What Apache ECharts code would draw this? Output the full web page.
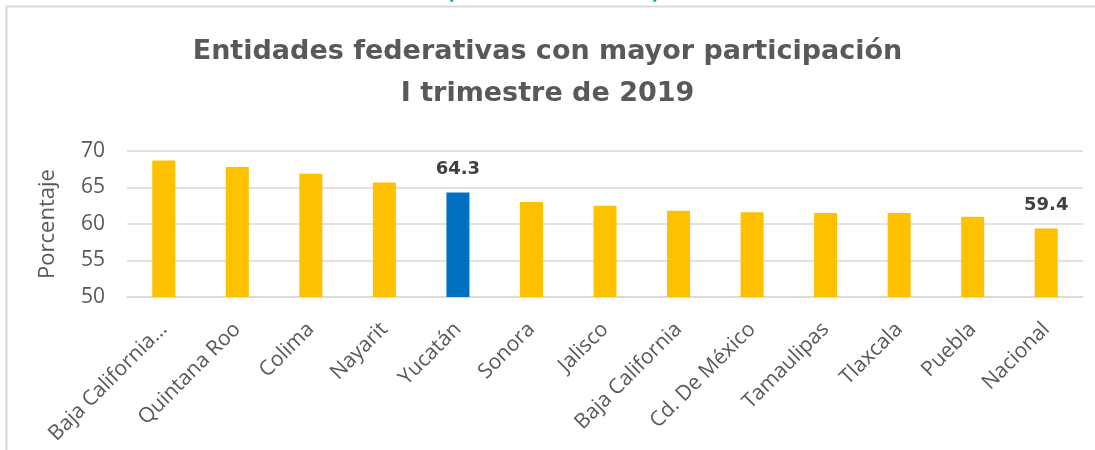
<!DOCTYPE html>
<html>
<head>
<meta charset="utf-8">
<script src="https://cdn.jsdelivr.net/npm/echarts@6/dist/echarts.min.js"></script>
<style>html,body{margin:0;padding:0;background:#fff;}#c{width:1095px;height:450px;}</style>
</head>
<body>
<div id="c"></div>
<script>
var categories = ["Baja California Sur", "Quintana Roo", "Colima", "Nayarit", "Yucatán", "Sonora", "Jalisco", "Baja California", "Cd. De México", "Tamaulipas", "Tlaxcala", "Puebla", "Nacional"];
var values = [68.7, 67.8, 66.9, 65.7, 64.3, 63.0, 62.5, 61.8, 61.6, 61.5, 61.5, 61.0, 59.4];
var highlighted = ["Yucatán"];
var labelled = ["Yucatán", "Nacional"];
var titleLines = ["Entidades federativas con mayor participación", "I trimestre de 2019"];
var yAxisName = "Porcentaje";

var chart = echarts.init(document.getElementById('c'), null, {renderer: 'canvas'});
var data = values.map(function (v, i) {
  var name = categories[i];
  return {
    value: v,
    itemStyle: {color: highlighted.indexOf(name) >= 0 ? '#0070C0' : '#FFC000'},
    label: {show: labelled.indexOf(name) >= 0}
  };
});
chart.setOption({
  animation: false,
  backgroundColor: '#ffffff',
  graphic: [
    {type: 'rect', shape: {x: 6.5, y: 6.5, width: 1200, height: 600}, style: {fill: null, stroke: '#d9d9d9', lineWidth: 2}, silent: true},
    {type: 'text', left: 447, top: -19, style: {text: '(', fill: '#00B050', font: 'bold 22px "Open Sans"'}},
    {type: 'text', left: 652, top: -19, style: {text: ')', fill: '#00B050', font: 'bold 22px "Open Sans"'}}
  ],
  title: {
    text: titleLines.join('\n'),
    left: 'center',
    top: 26,
    textStyle: {fontFamily: '"DejaVu Sans"', fontWeight: 'bold', fontSize: 27, color: '#595959', lineHeight: 42}
  },
  grid: {left: 127, right: 12, top: 151, bottom: 153},
  xAxis: {
    type: 'category',
    data: categories,
    axisLine: {lineStyle: {color: '#d9d9d9', width: 1.5}},
    axisTick: {show: false},
    axisLabel: {
      interval: 0, rotate: 45, margin: 29,
      color: '#595959', fontFamily: '"Open Sans"', fontSize: 21,
      formatter: function (v) { return v.length > 16 ? v.slice(0, 15) + '…' : v; }
    }
  },
  yAxis: {
    type: 'value',
    min: 50, max: 70, interval: 5,
    name: yAxisName,
    nameLocation: 'middle',
    nameGap: 68,
    nameTextStyle: {color: '#595959', fontFamily: '"Open Sans"', fontSize: 22},
    axisLine: {show: false},
    axisTick: {show: false},
    axisLabel: {color: '#595959', fontFamily: '"Open Sans"', fontSize: 21, margin: 22},
    splitLine: {lineStyle: {color: '#d9d9d9', width: 1.5}}
  },
  series: [{
    type: 'bar',
    data: data,
    barWidth: 23,
    label: {
      position: 'top', distance: 14,
      color: '#404040', fontFamily: '"DejaVu Sans"', fontWeight: 'bold', fontSize: 18,
      formatter: function (p) { return p.value.toFixed(1); }
    }
  }]
});
</script>
</body>
</html>
